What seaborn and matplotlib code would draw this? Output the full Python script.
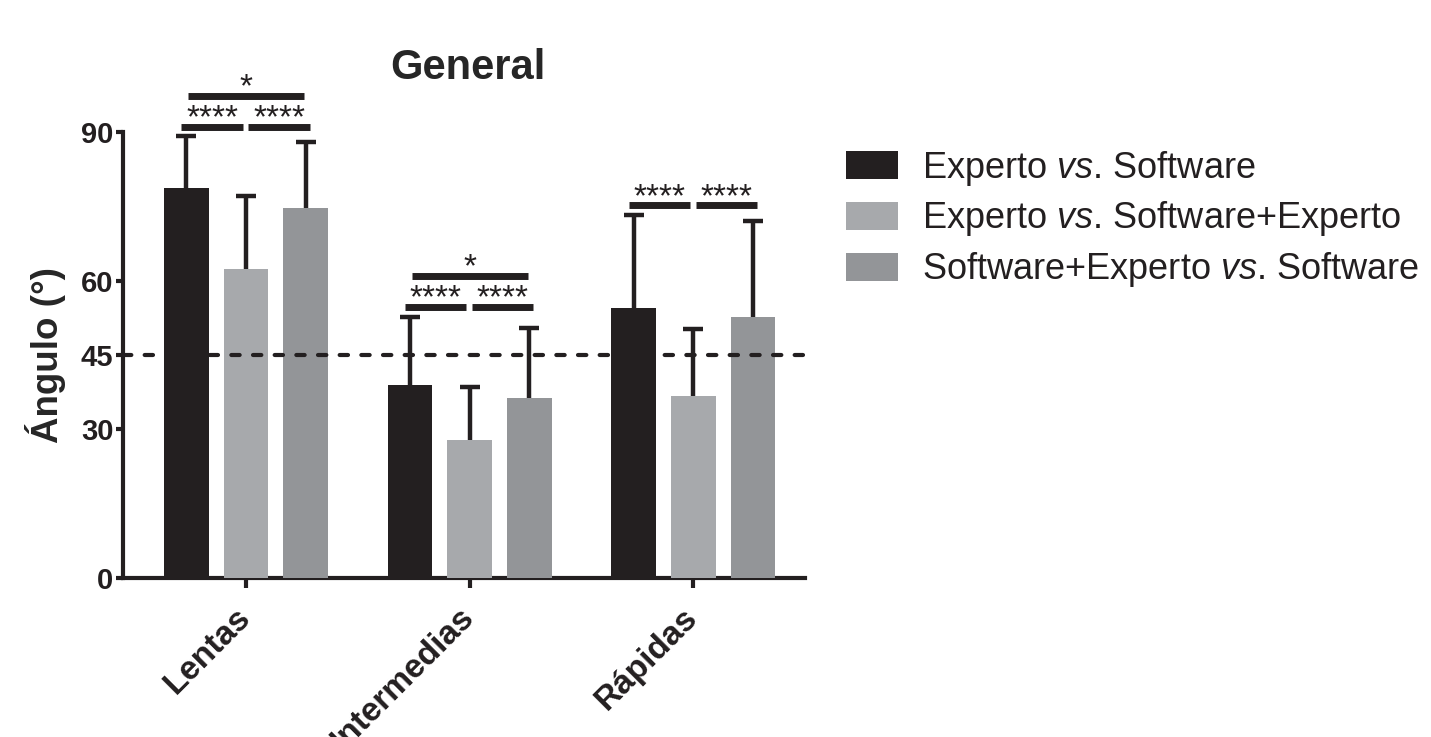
import matplotlib
matplotlib.use("Agg")
import matplotlib.pyplot as plt
import numpy as np
import pandas as pd
import seaborn as sns

# Mean angle (degrees) and standard deviation per speed class and comparison
categories = ["Lentas", "Intermedias", "Rápidas"]
comparisons = [
    "Experto $\\mathit{vs}$. Software",
    "Experto $\\mathit{vs}$. Software+Experto",
    "Software+Experto $\\mathit{vs}$. Software",
]
media_exp_sw = [78.6, 38.9, 54.5]
media_exp_swexp = [62.3, 27.8, 36.8]
media_swexp_sw = [74.7, 36.4, 52.7]
de_exp_sw = [10.5, 13.8, 18.7]
de_exp_swexp = [14.8, 10.7, 13.4]
de_swexp_sw = [13.2, 14.1, 19.3]
y_ticks = [0, 30, 45, 60, 90]
umbral = 45

# Significance marks per class: (first bar, second bar, label)
significancia = {
    "Lentas": [(0, 1, "****"), (1, 2, "****"), (0, 2, "*")],
    "Intermedias": [(0, 1, "****"), (1, 2, "****"), (0, 2, "*")],
    "Rápidas": [(0, 1, "****"), (1, 2, "****")],
}

colores = ["#231f20", "#a7a9ac", "#939598"]
ink = "#231f20"

sns.set_style("white")
plt.rcParams["font.family"] = ["Liberation Sans", "DejaVu Sans"]
plt.rcParams["mathtext.fontset"] = "custom"
plt.rcParams["mathtext.rm"] = "Liberation Sans"
plt.rcParams["mathtext.it"] = "Liberation Sans:italic"

medias = [media_exp_sw, media_exp_swexp, media_swexp_sw]
desvios = [de_exp_sw, de_exp_swexp, de_swexp_sw]
df = pd.DataFrame({
    "categoria": np.repeat([categories], 3, axis=0).ravel(),
    "comparacion": np.repeat(comparisons, len(categories)),
    "angulo": np.concatenate(medias),
    "de": np.concatenate(desvios),
})

fig = plt.figure(figsize=(14.31, 7.37), dpi=100)
ax = fig.add_axes([0.086, 0.2157, 0.4766, 0.6052])

sns.barplot(
    data=df, x="categoria", y="angulo", hue="comparacion",
    order=categories, hue_order=comparisons,
    palette=dict(zip(comparisons, colores)),
    errorbar=None, width=0.8, gap=0.25, saturation=1,
    linewidth=0, ax=ax,
)
for p in ax.patches:
    p.set_zorder(3)

# Upper-only error bars placed on the drawn bars
for cont, comp in zip(ax.containers, comparisons):
    sub = df[df["comparacion"] == comp].set_index("categoria").loc[categories]
    xs = [p.get_x() + p.get_width() / 2 for p in cont.patches]
    ys = np.array([p.get_height() for p in cont.patches])
    eb = ax.errorbar(xs, ys, yerr=[np.zeros(len(xs)), sub["de"].values],
                     fmt="none", ecolor=ink, elinewidth=3.2, capsize=7.5,
                     capthick=3.2, zorder=1)
    # hide the zero-length lower caps sitting on the bar tops
    for cap in eb[1]:
        if np.allclose(cap.get_ydata(), ys):
            cap.set_visible(False)

ax.axhline(umbral, color=ink, lw=3, ls=(0, (2.0, 3.2)),
           dash_capstyle="round", zorder=4)

ax.set_ylim(0, 90)
ax.set_xlim(-0.55, 2.5)
ax.set_yticks(y_ticks)
ax.set_yticklabels([str(t) for t in y_ticks], fontsize=21, fontweight="bold")
ax.set_xticks(range(len(categories)))
ax.set_xticklabels(categories, fontsize=24, fontweight="bold",
                   rotation=45, ha="right", va="center", rotation_mode="anchor")
ax.set_xlabel("")
ax.set_ylabel("Ángulo (°)", fontsize=26.5, fontweight="bold", labelpad=11)
ax.set_title("General", fontsize=30, fontweight="bold", pad=38, x=0.506)

for s in ["top", "right"]:
    ax.spines[s].set_visible(False)
for s in ["left", "bottom"]:
    ax.spines[s].set_linewidth(3)
    ax.spines[s].set_color(ink)
ax.tick_params(axis="both", which="both", width=3, color=ink,
               labelcolor=ink, direction="out", left=True, bottom=True)
ax.tick_params(axis="y", length=5, pad=2)
ax.tick_params(axis="x", length=7, pad=18)

# Significance brackets above each class
offs = np.array([-0.2667, 0.0, 0.2667])
for i, cat in enumerate(categories):
    tops = [medias[k][i] + desvios[k][i] for k in range(3)]
    base = max(tops) + 2.0
    for a, b, lab in significancia[cat]:
        if b - a == 1:
            x0 = i + offs[a] + (-0.022 if a == 0 else 0.01)
            x1 = i + offs[b] + (0.018 if b == 2 else -0.015)
            yy = base
        else:
            x0 = i + offs[a] + 0.008
            x1 = i + offs[b] - 0.008
            yy = base + 6.2
        ax.plot([x0, x1], [yy, yy], color=ink, lw=5, solid_capstyle="butt",
                clip_on=False, zorder=5)
        ax.text((x0 + x1) / 2, yy - 0.1, lab, ha="center", va="baseline",
                fontsize=24, color=ink, clip_on=False)

sns.move_legend(
    ax, loc="upper left", bbox_to_anchor=(0.581, 0.818),
    bbox_transform=fig.transFigure, frameon=False, title=None,
    fontsize=26, handlelength=1.45, handleheight=0.85,
    handletextpad=0.65, labelspacing=0.33, borderaxespad=0,
)
for t in ax.get_legend().get_texts():
    t.set_color(ink)

fig.savefig("out.png", dpi=100, facecolor="white")
